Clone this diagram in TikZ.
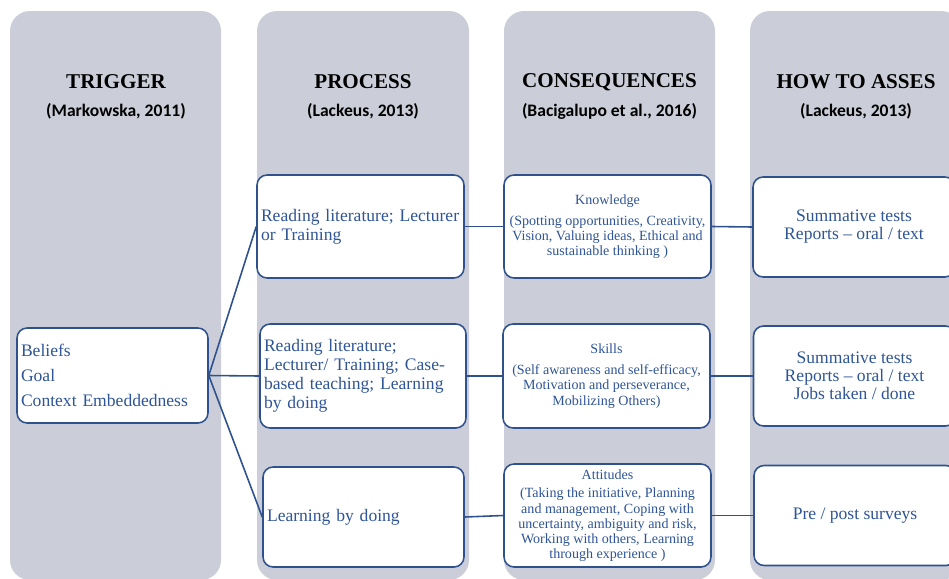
\documentclass[tikz,border=0pt]{standalone}
\usepackage{fontspec}
\setmainfont{Liberation Serif}
\newfontfamily\calibfont{Carlito}
\usetikzlibrary{calc,positioning}
\definecolor{colgray}{HTML}{CBCED8}
\definecolor{boxblue}{HTML}{2F528F}
\definecolor{txtblue}{HTML}{2F5597}

\begin{document}
\begin{tikzpicture}[x=0.02cm,y=-0.02cm,
  column/.style={fill=colgray,rounded corners=0.4cm},
  heading/.style={font=\fontsize{12}{14}\selectfont\bfseries},
  source/.style={font=\calibfont\fontsize{10}{12}\selectfont\bfseries},
  box/.style={draw=boxblue,line width=0.9pt,fill=white,rounded corners=0.2cm,text=txtblue,inner xsep=0.08cm,inner ysep=0pt},
  leftbox/.style={box,align=left,font=\fontsize{10}{10.8}\selectfont},
  midbox/.style={box,align=center,minimum width=4.14cm,font=\fontsize{8}{8.6}\selectfont},
  rightbox/.style={box,align=center,minimum width=4.04cm,minimum height=2cm,font=\fontsize{10}{10.2}\selectfont},
  link/.style={draw=boxblue,line width=0.9pt}]
\useasboundingbox (0,0) rectangle (949,578);
\fill[white] (0,0) rectangle (949,578);
\clip (0,0) rectangle (949,578);

\fill[column] (10,11) rectangle (221,580);
\fill[column] (257,11) rectangle (469,580);
\fill[column] (504,11) rectangle (715,580);
\fill[column] (750,11) rectangle (961,580);

\node[heading] (trigger) at (116,82) {TRIGGER};
\node[source] (triggersrc) at (116,111) {(Markowska, 2011)};
\node[heading] (process) at (363,82) {PROCESS};
\node[source] (processsrc) at (363,111) {(Lackeus, 2013)};
\node[heading] (conseq) at (609.5,82) {CONSEQUENCES};
\node[source] (conseqsrc) at (609.5,111) {(Bacigalupo et al., 2016)};
\node[heading] (assess) at (856,82) {HOW TO ASSES};
\node[source] (assesssrc) at (856,111) {(Lackeus, 2013)};

\node[leftbox,text width=3.66cm,minimum height=1.9cm] (trig) at (112.5,375.5) {Beliefs\\[3.4pt]Goal\\[3.4pt]Context Embeddedness};

\node[leftbox,text width=3.98cm,minimum height=2.06cm] (p1) at (360.5,226.5) {Reading literature; Lecturer\\or Training};
\node[leftbox,text width=3.96cm,minimum height=2.08cm] (p2) at (363,376) {Reading literature;\\Lecturer/ Training; Case-\\based teaching; Learning\\by doing};
\node[leftbox,text width=3.86cm,minimum height=2cm] (p3) at (363.5,517) {Learning by doing};

\node[midbox,minimum height=2.06cm] (c1) at (607.5,226.5) {Knowledge\\[3.5pt](Spotting opportunities, Creativity,\\Vision, Valuing ideas, Ethical and\\sustainable thinking )};
\node[midbox,minimum height=2.08cm] (c2) at (606.5,376) {Skills\\[3.5pt](Self awareness and self-efficacy,\\Motivation and perseverance,\\Mobilizing Others)};
\node[midbox,minimum height=2.06cm] (c3) at (607.5,515.5) {Attitudes\\[2pt](Taking the initiative, Planning\\and management, Coping with\\uncertainty, ambiguity and risk,\\Working with others, Learning\\through experience )};

\node[rightbox] (a1) at (854,227) {Summative tests\\Reports -- oral / text};
\node[rightbox] (a2) at (854.5,376) {Summative tests\\Reports -- oral / text\\Jobs taken / done};
\node[rightbox] (a3) at (855,515.5) {Pre / post surveys};

\draw[link] (trig.east) -- (p1.west);
\draw[link] (trig.east) -- (p2.west);
\draw[link] (trig.east) -- (p3.west);
\draw[link] (p1.east) -- (c1.west);
\draw[link] (p2.east) -- (c2.west);
\draw[link] (p3.east) -- (c3.west);
\draw[link] (c1.east) -- (a1.west);
\draw[link] (c2.east) -- (a2.west);
\draw[link] (c3.east) -- (a3.west);
\end{tikzpicture}
\end{document}
